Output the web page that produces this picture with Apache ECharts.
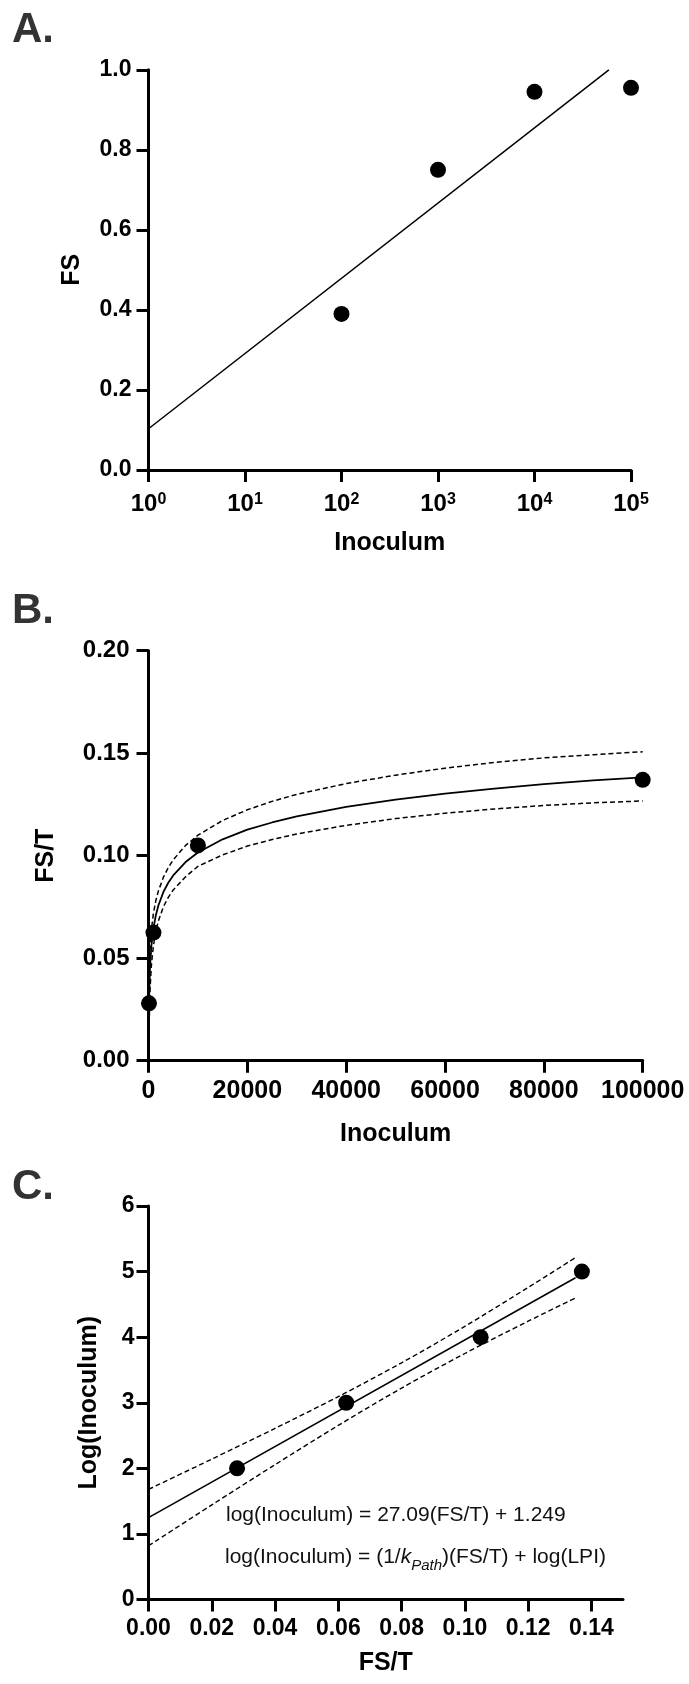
<!DOCTYPE html>
<html>
<head>
<meta charset="utf-8">
<script src="https://cdn.jsdelivr.net/npm/echarts@6/dist/echarts.min.js"></script>
<style>html,body{margin:0;padding:0;background:#fff}#c{width:689px;height:1684px}</style>
</head>
<body>
<div id="c"></div>
<script>
// ---------- Panel A data ----------
const aInoculum = [100, 1000, 10000, 100000];
const aFS = [0.39, 0.75, 0.945, 0.955];
const aFitX = [1, 59000];
const aFitY = [0.103, 1.0];

// ---------- Panel B data ----------
const bInoculum = [100, 1000, 10000, 100000];
const bFST = [0.028, 0.0625, 0.105, 0.137];
const bCurveX = [100, 300, 600, 1000, 1500, 2000, 3000, 4000, 5000, 7500, 10000, 15000, 20000, 25000, 30000, 40000, 50000, 60000, 70000, 80000, 90000, 100000];
const bFit   = [0.0277, 0.0453, 0.0564, 0.0646, 0.0711, 0.0757, 0.0822, 0.0868, 0.0904, 0.0969, 0.1016, 0.1080, 0.1127, 0.1162, 0.1192, 0.1238, 0.1274, 0.1303, 0.1327, 0.1349, 0.1367, 0.1382];
const bUpper = [0.0382, 0.0540, 0.0642, 0.0720, 0.0783, 0.0828, 0.0894, 0.0942, 0.0980, 0.1050, 0.1100, 0.1172, 0.1224, 0.1265, 0.1299, 0.1352, 0.1393, 0.1427, 0.1455, 0.1477, 0.1493, 0.1507];
const bLower = [0.0140, 0.0344, 0.0470, 0.0562, 0.0633, 0.0682, 0.0750, 0.0797, 0.0833, 0.0897, 0.0948, 0.1004, 0.1047, 0.1079, 0.1106, 0.1148, 0.1181, 0.1207, 0.1228, 0.1245, 0.1258, 0.1267];

// ---------- Panel C data ----------
const cFST = [0.028, 0.0625, 0.105, 0.137];
const cLogInoc = [2, 3, 4, 5];
const cFitX = [0, 0.135];
const cFitY = [1.249, 4.906];
const cBandX = [0, 0.02, 0.04, 0.06, 0.08, 0.10, 0.12, 0.135];
const cUpper = [1.679, 2.140, 2.609, 3.094, 3.609, 4.165, 4.757, 5.214];
const cLower = [0.819, 1.442, 2.056, 2.655, 3.224, 3.751, 4.243, 4.598];
const cXTicks = [0, 0.02, 0.04, 0.06, 0.08, 0.10, 0.12, 0.14];

// ---------- texts ----------
const eq1 = 'log(Inoculum) = 27.09(FS/T) + 1.249';
const eq2 = '{n|log(Inoculum) = (1/}{i|k}{sub|Path}{n|)(FS/T) + log(LPI)}';

const FF = '"Liberation Sans", Arial, Helvetica, sans-serif';
const zip = (xs, ys) => xs.map((x, i) => [x, ys[i]]);

const chart = echarts.init(document.getElementById('c'), null, {renderer: 'canvas', width: 689, height: 1684});

const option = {
  animation: false,
  grid: [
    {left: 148.5, top: 69.8, width: 482.5, height: 400.2},
    {left: 148.5, top: 650.7, width: 494.2, height: 410},
    {left: 148.5, top: 1206, width: 474.5, height: 393.5}
  ],
  xAxis: [
    {
      gridIndex: 0, type: 'log', logBase: 10, min: 1, max: 100000,
      axisLine: {show: true, onZero: false, lineStyle: {color: '#000', width: 3}},
      axisTick: {show: true, length: 12, lineStyle: {color: '#000', width: 3}},
      splitLine: {show: false},
      axisLabel: {
        show: true, margin: 22,
        formatter: v => '{b|10}{s|' + Math.round(Math.log10(v)) + '}',
        rich: {
          b: {color: '#000', fontFamily: FF, fontWeight: 'bold', fontSize: 24, lineHeight: 24, verticalAlign: 'bottom'},
          s: {color: '#000', fontFamily: FF, fontWeight: 'bold', fontSize: 16, lineHeight: 10, verticalAlign: 'top'}
        }
      },
      name: 'Inoculum', nameLocation: 'middle', nameGap: 61,
      nameTextStyle: {color: '#000', fontFamily: FF, fontWeight: 'bold', fontSize: 25}
    },
    {
      gridIndex: 1, type: 'value', min: 0, max: 100000, interval: 20000,
      axisLine: {show: true, onZero: false, lineStyle: {color: '#000', width: 3}},
      axisTick: {show: true, length: 12, lineStyle: {color: '#000', width: 3}},
      splitLine: {show: false},
      axisLabel: {color: '#000', fontFamily: FF, fontWeight: 'bold', fontSize: 25, margin: 18, formatter: v => String(Math.round(v))},
      name: 'Inoculum', nameLocation: 'middle', nameGap: 61,
      nameTextStyle: {color: '#000', fontFamily: FF, fontWeight: 'bold', fontSize: 25}
    },
    {
      gridIndex: 2, type: 'value', min: 0, max: 0.15,
      axisLine: {show: true, onZero: false, lineStyle: {color: '#000', width: 3}},
      axisTick: {show: true, length: 12, customValues: cXTicks, lineStyle: {color: '#000', width: 3}},
      splitLine: {show: false},
      axisLabel: {color: '#000', fontFamily: FF, fontWeight: 'bold', fontSize: 23, margin: 18, customValues: cXTicks, formatter: v => v.toFixed(2)},
      name: 'FS/T', nameLocation: 'middle', nameGap: 51,
      nameTextStyle: {color: '#000', fontFamily: FF, fontWeight: 'bold', fontSize: 25}
    }
  ],
  yAxis: [
    {
      gridIndex: 0, type: 'value', min: 0, max: 1, interval: 0.2,
      axisLine: {show: true, onZero: false, lineStyle: {color: '#000', width: 3}},
      axisTick: {show: true, length: 12, lineStyle: {color: '#000', width: 3}},
      splitLine: {show: false},
      axisLabel: {color: '#000', fontFamily: FF, fontWeight: 'bold', fontSize: 23, margin: 17, formatter: v => v.toFixed(1)},
      name: 'FS', nameLocation: 'middle', nameRotate: 90, nameGap: 64,
      nameTextStyle: {color: '#000', fontFamily: FF, fontWeight: 'bold', fontSize: 25}
    },
    {
      gridIndex: 1, type: 'value', min: 0, max: 0.2, interval: 0.05,
      axisLine: {show: true, onZero: false, lineStyle: {color: '#000', width: 3}},
      axisTick: {show: true, length: 12, lineStyle: {color: '#000', width: 3}},
      splitLine: {show: false},
      axisLabel: {color: '#000', fontFamily: FF, fontWeight: 'bold', fontSize: 24, margin: 19, formatter: v => v.toFixed(2)},
      name: 'FS/T', nameLocation: 'middle', nameRotate: 90, nameGap: 90,
      nameTextStyle: {color: '#000', fontFamily: FF, fontWeight: 'bold', fontSize: 25}
    },
    {
      gridIndex: 2, type: 'value', min: 0, max: 6, interval: 1,
      axisLine: {show: true, onZero: false, lineStyle: {color: '#000', width: 3}},
      axisTick: {show: true, length: 12, lineStyle: {color: '#000', width: 3}},
      splitLine: {show: false},
      axisLabel: {color: '#000', fontFamily: FF, fontWeight: 'bold', fontSize: 23, margin: 14, formatter: v => String(v)},
      name: 'Log(Inoculum)', nameLocation: 'middle', nameRotate: 90, nameGap: 47,
      nameTextStyle: {color: '#000', fontFamily: FF, fontWeight: 'bold', fontSize: 25}
    }
  ],
  series: [
    // Panel A
    {type: 'line', xAxisIndex: 0, yAxisIndex: 0, data: zip(aFitX, aFitY), symbol: 'none',
     lineStyle: {color: '#000', width: 1.5}, z: 2},
    {type: 'scatter', xAxisIndex: 0, yAxisIndex: 0, data: zip(aInoculum, aFS), symbolSize: 16,
     itemStyle: {color: '#000', opacity: 1}, clip: false, z: 5},
    // Panel B
    {type: 'line', xAxisIndex: 1, yAxisIndex: 1, data: zip(bCurveX, bUpper), symbol: 'none',
     lineStyle: {color: '#000', width: 1.5, type: [5, 3]}, z: 2},
    {type: 'line', xAxisIndex: 1, yAxisIndex: 1, data: zip(bCurveX, bLower), symbol: 'none',
     lineStyle: {color: '#000', width: 1.5, type: [5, 3]}, z: 2},
    {type: 'line', xAxisIndex: 1, yAxisIndex: 1, data: zip(bCurveX, bFit), symbol: 'none',
     lineStyle: {color: '#000', width: 1.8}, z: 3},
    {type: 'scatter', xAxisIndex: 1, yAxisIndex: 1, data: zip(bInoculum, bFST), symbolSize: 16,
     itemStyle: {color: '#000', opacity: 1}, clip: false, z: 5},
    // Panel C
    {type: 'line', xAxisIndex: 2, yAxisIndex: 2, data: zip(cBandX, cUpper), symbol: 'none',
     smooth: 0.3, lineStyle: {color: '#000', width: 1.4, type: [5, 3]}, z: 2},
    {type: 'line', xAxisIndex: 2, yAxisIndex: 2, data: zip(cBandX, cLower), symbol: 'none',
     smooth: 0.3, lineStyle: {color: '#000', width: 1.4, type: [5, 3]}, z: 2},
    {type: 'line', xAxisIndex: 2, yAxisIndex: 2, data: zip(cFitX, cFitY), symbol: 'none',
     lineStyle: {color: '#000', width: 1.6}, z: 3},
    {type: 'scatter', xAxisIndex: 2, yAxisIndex: 2, data: zip(cFST, cLogInoc), symbolSize: 16,
     itemStyle: {color: '#000', opacity: 1}, clip: false, z: 5}
  ],
  graphic: [
    {type: 'text', x: 12, y: 30, style: {text: 'A.', fill: '#333', font: 'bold 42px ' + FF, verticalAlign: 'middle'}},
    {type: 'text', x: 12, y: 611, style: {text: 'B.', fill: '#333', font: 'bold 42px ' + FF, verticalAlign: 'middle'}},
    {type: 'text', x: 12, y: 1187, style: {text: 'C.', fill: '#333', font: 'bold 42px ' + FF, verticalAlign: 'middle'}},
    {type: 'text', x: 226, y: 1515, style: {text: eq1, fill: '#111', font: '21px ' + FF, verticalAlign: 'middle'}},
    {type: 'text', x: 225, y: 1541, style: {
      text: eq2, fill: '#111', font: '21px ' + FF,
      rich: {
        n: {fontFamily: FF, fontSize: 21, lineHeight: 32, fill: '#111'},
        i: {fontFamily: FF, fontSize: 21, lineHeight: 32, fontStyle: 'italic', fill: '#111'},
        sub: {fontFamily: FF, fontSize: 15, lineHeight: 16, fontStyle: 'italic', verticalAlign: 'bottom', fill: '#111'}
      }
    }}
  ]
};
chart.setOption(option);
</script>
</body>
</html>
